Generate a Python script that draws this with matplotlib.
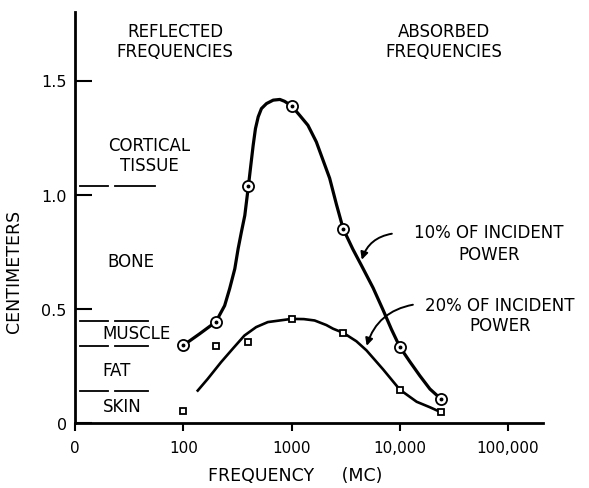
import matplotlib
matplotlib.use("Agg")
import matplotlib.pyplot as plt

# measured points (frequency in MC, depth in cm)
freq_pts = [100, 200, 400, 1000, 3000, 10000, 24000]
cm_10pct = [0.34, 0.443, 1.04, 1.39, 0.85, 0.333, 0.105]
cm_20pct = [0.053, 0.338, 0.355, 0.456, 0.395, 0.145, 0.048]

# hand-drawn curves
curve10_f = [100, 141, 200, 241, 268, 299, 321, 344, 370, 400, 417, 442, 464,
             492, 527, 587, 677, 780, 861, 1000, 1186, 1416, 1694, 2248, 2595,
             3000, 3675, 4420, 5660, 7000, 8370, 10000, 12400, 15300, 18950,
             24000]
curve10_cm = [0.34, 0.390, 0.443, 0.514, 0.588, 0.675, 0.763, 0.836, 0.909,
              1.04, 1.114, 1.216, 1.289, 1.341, 1.377, 1.399, 1.414, 1.417,
              1.409, 1.389, 1.348, 1.304, 1.231, 1.072, 0.958, 0.85, 0.762,
              0.690, 0.592, 0.495, 0.410, 0.333, 0.268, 0.207, 0.149, 0.105]
curve20_f = [136, 168, 223, 286, 367, 471, 604, 1000, 1300, 1633, 2094, 2415,
             3000, 3970, 4920, 7000, 10000, 14300, 18950, 24000]
curve20_cm = [0.142, 0.193, 0.266, 0.325, 0.383, 0.420, 0.442, 0.456, 0.455,
              0.449, 0.429, 0.413, 0.395, 0.358, 0.318, 0.235, 0.146, 0.093,
              0.069, 0.047]

# tissue boundaries (cm)
tissue_bounds = [1.04, 0.447, 0.338, 0.14]

x_ticks = [10, 100, 1000, 10000, 100000]
x_labels = ["0", "100", "1000", "10,000", "100,000"]
y_ticks = [0, 0.5, 1.0, 1.5]
y_labels = ["0", "0.5", "1.0", "1.5"]

fs = 12

fig = plt.figure(figsize=(5.89, 4.89), dpi=100)
ax = fig.add_axes([75/589, 65/489, 468/589, 411/489])

ax.plot(curve10_f, curve10_cm, color="black", lw=2.3, solid_joinstyle="round")
ax.plot(curve20_f, curve20_cm, color="black", lw=1.9, solid_joinstyle="round")

ax.plot(freq_pts, cm_10pct, "o", ms=8, mfc="white", mec="black", mew=1.3, zorder=3)
ax.plot(freq_pts, cm_10pct, "o", ms=1.8, color="black", zorder=4)
ax.plot(freq_pts, cm_20pct, "s", ms=5, mfc="white", mec="black", mew=1.3, zorder=3)

ax.set_xscale("log")
ax.set_xlim(10, 210000)
ax.set_ylim(0, 1.8)

ax.set_xticks(x_ticks)
ax.set_xticklabels(x_labels, fontsize=11)
ax.minorticks_off()
ax.set_yticks(y_ticks)
ax.set_yticklabels(y_labels, fontsize=11.5)
ax.tick_params(axis="x", direction="out", length=6, width=1.5, pad=6)
ax.tick_params(axis="y", direction="in", length=12, width=1.5, pad=6)

for s in ["top", "right"]:
    ax.spines[s].set_visible(False)
for s in ["left", "bottom"]:
    ax.spines[s].set_linewidth(2)

ax.set_xlabel("FREQUENCY     (MC)", fontsize=12.5)
ax.xaxis.set_label_coords(0.47, -0.105)
ax.set_ylabel("CENTIMETERS", fontsize=12.5)
ax.yaxis.set_label_coords(-0.112, 0.37)

# tissue boundary dashes
ytr = ax.get_yaxis_transform()
for i, b in enumerate(tissue_bounds):
    x2 = 0.171 if i == 0 else 0.156
    ax.plot([0.011, 0.07], [b, b], color="black", lw=1.3, transform=ytr, clip_on=False)
    ax.plot([0.085, x2], [b, b], color="black", lw=1.3, transform=ytr, clip_on=False)

ax.text(0.158, 1.175, "CORTICAL\nTISSUE", transform=ytr, ha="center", va="center",
        fontsize=fs, linespacing=1.15)
ax.text(0.07, 0.71, "BONE", transform=ytr, ha="left", va="center", fontsize=fs)
ax.text(0.058, 0.395, "MUSCLE", transform=ytr, ha="left", va="center", fontsize=fs)
ax.text(0.058, 0.232, "FAT", transform=ytr, ha="left", va="center", fontsize=fs)
ax.text(0.06, 0.075, "SKIN", transform=ytr, ha="left", va="center", fontsize=fs)

ax.text(0.214, 1.673, "REFLECTED\nFREQUENCIES", transform=ytr, ha="center",
        va="center", fontsize=fs, linespacing=1.15)
ax.text(0.788, 1.673, "ABSORBED\nFREQUENCIES", transform=ytr, ha="center",
        va="center", fontsize=fs, linespacing=1.15)

ax.text(66700, 0.79, "10% OF INCIDENT\nPOWER", ha="center", va="center",
        fontsize=fs, linespacing=1.3)
ax.text(84400, 0.474, "20% OF INCIDENT\nPOWER", ha="center", va="center",
        fontsize=fs, linespacing=1.15)

arrow = dict(arrowstyle="-|>", color="black", lw=1.4,
             connectionstyle="arc3,rad=0.3", shrinkA=0, shrinkB=0,
             mutation_scale=11)
ax.annotate("", xy=(4450, 0.715), xytext=(8440, 0.829), arrowprops=arrow)
ax.annotate("", xy=(4940, 0.338), xytext=(13200, 0.518), arrowprops=arrow)

fig.savefig("out.png", dpi=100)
